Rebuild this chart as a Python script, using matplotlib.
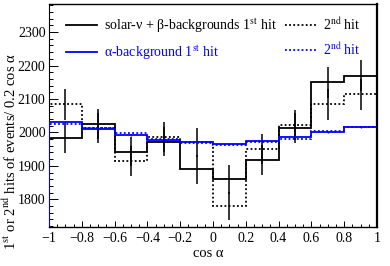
## Angular distribution of 1st / 2nd hits, solar-nu+beta vs alpha background
import matplotlib.pyplot as plt
from matplotlib.lines import Line2D
import numpy as np

## Bin edges in cos(alpha)
edges = [-1.0, -0.8, -0.6, -0.4, -0.2, 0.0, 0.2, 0.4, 0.6, 0.8, 1.0]
centers = [-0.9, -0.7, -0.5, -0.3, -0.1, 0.1, 0.3, 0.5, 0.7, 0.9]

## solar-nu + beta backgrounds
beta_1st = [1984, 2025, 1942, 1972, 1890, 1860, 1917, 2014, 2150, 2170]
beta_1st_err = [45, 45, 44, 44, 43, 43, 44, 45, 46, 47]
beta_2nd = [2084, 2012, 1915, 1987, 1970, 1780, 1950, 2023, 2084, 2114]
beta_2nd_err = [46, 45, 44, 45, 44, 42, 44, 45, 46, 46]

## alpha background
alpha_1st = [2030, 2010, 1992, 1977, 1970, 1965, 1974, 1985, 2002, 2016]
alpha_1st_err = [3, 3, 3, 3, 3, 3, 3, 3, 3, 3]
alpha_2nd = [2026, 2012, 1998, 1979, 1968, 1963, 1972, 1981, 2003, 2017]

ylo, yhi = 1717, 2384

plt.rcParams['font.family'] = ['Liberation Serif', 'DejaVu Serif']
plt.rcParams['mathtext.fontset'] = 'stix'

fig = plt.figure(figsize=(3.9, 2.66), dpi=100)
ax = fig.add_axes([49/390, 1-227/266, 328/390, 223/266])

blue = '#0000ff'
dot = (0, (1, 1.3))
ax.stairs(beta_1st, edges, baseline=ylo, color='black', lw=1.3, zorder=3)
ax.errorbar(centers, beta_1st, yerr=beta_1st_err, fmt='none', ecolor='black', elinewidth=1.1, zorder=3)
ax.stairs(beta_2nd, edges, baseline=ylo, color='black', lw=1.3, ls=dot, zorder=3)
ax.errorbar(centers, beta_2nd, yerr=beta_2nd_err, fmt='none', ecolor='black', elinewidth=1.1, ls=':', zorder=3)
ax.stairs(alpha_1st, edges, baseline=ylo, color=blue, lw=1.3, zorder=4)
ax.errorbar(centers, alpha_1st, yerr=alpha_1st_err, fmt='none', ecolor=blue, elinewidth=1.0, zorder=4)
ax.stairs(alpha_2nd, edges, baseline=ylo, color=blue, lw=1.3, ls=dot, zorder=4)

ax.set_xlim(-1, 1)
ax.set_ylim(ylo, yhi)
ax.spines['left'].set_zorder(1)
for s in ['top', 'right', 'bottom']:
    ax.spines[s].set_zorder(5)
    ax.spines[s].set_linewidth(1.0)
ax.spines['right'].set_linewidth(1.6)

ax.set_xticks(np.arange(-1, 1.01, 0.2))
ax.set_xticks(np.arange(-1, 1.01, 0.05), minor=True)
ax.set_xticklabels(['\u22121', '\u22120.8', '\u22120.6', '\u22120.4', '\u22120.2', '0',
                    '0.2', '0.4', '0.6', '0.8', '1'])
ax.set_yticks([1800, 1900, 2000, 2100, 2200, 2300])
ax.set_yticks(np.arange(1720, 2384, 20), minor=True)
ax.tick_params(axis='both', which='both', direction='in', labelsize=10, width=0.7)
ax.tick_params(axis='y', which='major', length=6.5, pad=2.5)
ax.tick_params(axis='y', which='minor', length=3.2)
ax.tick_params(axis='x', which='major', length=4.3, pad=3.5)
ax.tick_params(axis='x', which='minor', length=2.2)

ax.set_xlabel('cos \u03b1', fontsize=10.5)
ax.xaxis.set_label_coords(0.485, -0.09)
ax.set_ylabel('1$^{\\rm st}$ or 2$^{\\rm nd}$ hits of events/ 0.2 cos \u03b1', fontsize=10.5)
ax.yaxis.set_label_coords(-0.09, 0.34)

## legend
handles = [Line2D([], [], color='black', lw=1.3),
           Line2D([], [], color=blue, lw=1.3),
           Line2D([], [], color='black', lw=1.3, ls=dot),
           Line2D([], [], color=blue, lw=1.3, ls=dot)]
labels = ['solar-\u03bd + \u03b2-backgrounds 1$^{\\rm st}$ hit',
          '\u03b1-background 1$^{\\rm st}$ hit',
          '2$^{\\rm nd}$ hit', '2$^{\\rm nd}$ hit']
leg = ax.legend(handles, labels, ncol=2, frameon=False, fontsize=10,
                loc='upper left', bbox_to_anchor=(0.015, 1.0),
                handlelength=2.2, handletextpad=0.5, columnspacing=0.6,
                labelspacing=0.6)
for t, c in zip(leg.get_texts(), ['black', blue, 'black', blue]):
    t.set_color(c)

fig.savefig('out.png', dpi=100)
